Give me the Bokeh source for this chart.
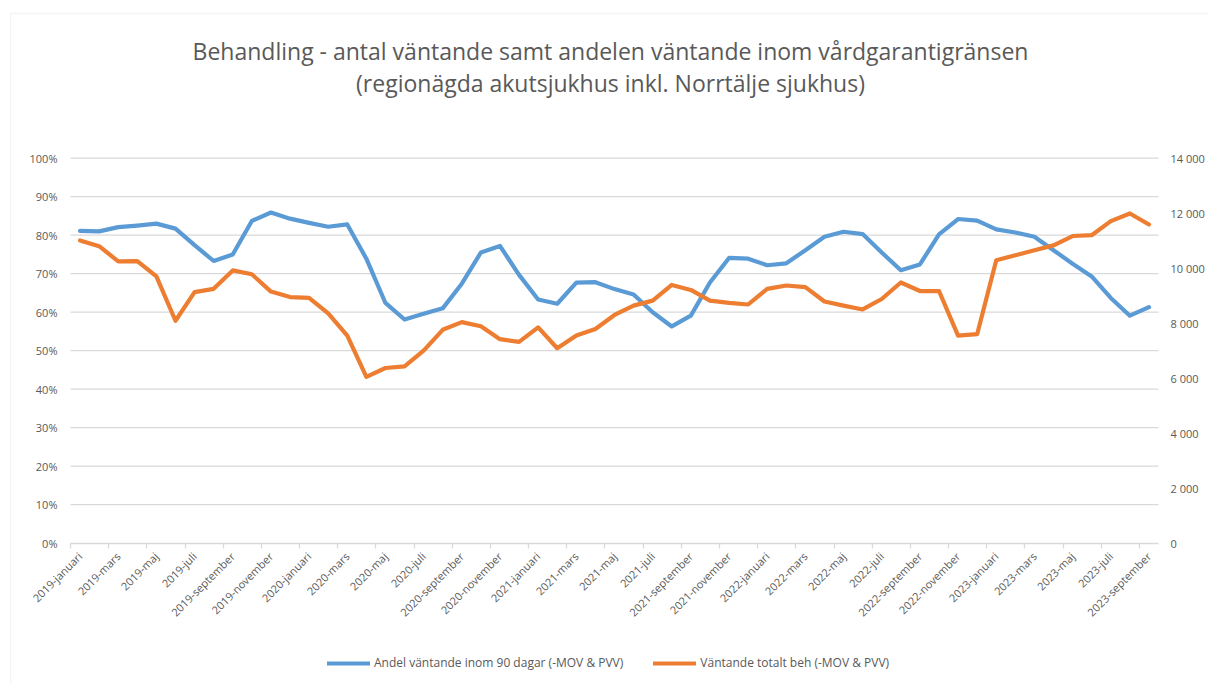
from bokeh.plotting import figure
from bokeh.models import (Range1d, LinearAxis, FixedTicker, NumeralTickFormatter,
                          Legend, LegendItem, Label, BoxAnnotation, ColumnDataSource)
from bokeh.embed import file_html
from bokeh.resources import INLINE
import math

# ---------------- data ----------------
month_names = ["januari", "februari", "mars", "april", "maj", "juni", "juli",
               "augusti", "september", "oktober", "november", "december"]
months = [f"{y}-{m}" for y in (2019, 2020, 2021, 2022) for m in month_names] + \
         [f"2023-{m}" for m in month_names[:9]]

andel_inom_90 = [81.1, 81.0, 82.1, 82.5, 83.0, 81.7, 77.4, 73.3, 75.0, 83.7, 85.9, 84.3,
                 83.2, 82.2, 82.8, 73.9, 62.4, 58.1, 59.6, 61.0, 67.4, 75.5, 77.2, 69.7,
                 63.3, 62.2, 67.7, 67.8, 66.0, 64.6, 60.0, 56.3, 59.1, 67.7, 74.1, 73.9,
                 72.2, 72.7, 76.1, 79.6, 80.9, 80.3, 75.5, 70.9, 72.4, 80.2, 84.2, 83.8,
                 81.5, 80.7, 79.6, 76.1, 72.6, 69.3, 63.7, 59.1, 61.3]

vantande_totalt = [11010, 10800, 10250, 10260, 9700, 8090, 9130, 9250, 9920, 9780, 9150, 8950,
                   8920, 8360, 7550, 6050, 6370, 6430, 7000, 7760, 8040, 7890, 7420, 7320,
                   7850, 7090, 7550, 7790, 8300, 8640, 8820, 9390, 9210, 8820, 8740, 8680,
                   9250, 9370, 9310, 8790, 8640, 8500, 8880, 9480, 9170, 9170, 7550, 7600,
                   10290, 10470, 10650, 10830, 11170, 11200, 11710, 11990, 11590]

left_ticks = [i / 10 for i in range(11)]
right_max = 14000
right_ticks = list(range(0, right_max + 1, 2000))

title_lines = ["Behandling - antal väntande samt andelen väntande inom vårdgarantigränsen",
               "(regionägda akutsjukhus inkl. Norrtälje sjukhus)"]
series_names = ["Andel väntande inom 90 dagar (-MOV & PVV)", "Väntande totalt beh (-MOV & PVV)"]

# ---------------- layout constants (pixels) ----------------
W, H = 1208, 684
PL, PR = 70, 1158          # plot area left / right
PT, PB = 157.7, 542.7      # plot area top / bottom
GRAY = "#595959"
GRID = "#d9d9d9"
FONT = "Open Sans"

n = len(months)
x0, x1 = -0.5, n - 0.5
ppx = (PR - PL) / (x1 - x0)
ppy = (PB - PT) / 1.0
xr = Range1d(x0 - PL / ppx, x1 + (W - PR) / ppx)
yr = Range1d(-(H - PB) / ppy, 1 + PT / ppy)

src = ColumnDataSource(dict(x=list(range(n)), andel=[v / 100 for v in andel_inom_90],
                            vant=vantande_totalt))

p = figure(width=W, height=H, output_backend="svg", toolbar_location=None,
           x_range=xr, y_range=yr, x_axis_location=None, y_axis_location=None,
           min_border_left=0, min_border_right=0, min_border_top=0, min_border_bottom=0,
           tools="")
p.title = None
p.outline_line_color = None
p.background_fill_color = "white"
p.border_fill_color = "white"
p.xgrid.visible = False
p.ygrid.visible = False
p.extra_y_ranges = {"right": Range1d(yr.start * right_max, yr.end * right_max)}

# outer chart border
p.add_layout(BoxAnnotation(left=10, right=W + 20, top=H - 13, bottom=-20,
                           left_units="screen", right_units="screen",
                           top_units="screen", bottom_units="screen",
                           fill_alpha=0, line_color=GRID, line_width=1.3, level="underlay"))

# horizontal gridlines (10%..100%) across the plot area
gl = left_ticks[1:]
p.segment(x0=[x0] * len(gl), x1=[x1] * len(gl), y0=gl, y1=gl,
          line_color=GRID, line_width=1.3, level="underlay")

# x axis (fixed at 0)
xa = LinearAxis(fixed_location=0, bounds=(x0, x1))
xa.ticker = FixedTicker(ticks=list(range(0, n, 2)),
                        minor_ticks=[k - 0.5 for k in range(0, n, 2)])
xa.major_label_overrides = {i: months[i] for i in range(0, n, 2)}
xa.major_label_orientation = math.pi / 4
xa.major_tick_line_color = None
xa.major_tick_in = 0
xa.major_tick_out = 0
xa.minor_tick_line_color = GRID
xa.minor_tick_in = 0
xa.minor_tick_out = 5
xa.minor_tick_line_width = 1.3
xa.axis_line_color = GRID
xa.axis_line_width = 1.3
xa.major_label_text_font = FONT
xa.major_label_text_font_size = "11px"
xa.major_label_text_color = GRAY
xa.major_label_standoff = 6
p.add_layout(xa, "below")

# left axis
ya = LinearAxis(fixed_location=x0, ticker=FixedTicker(ticks=left_ticks),
                formatter=NumeralTickFormatter(format="0%"))
ya.axis_line_color = None
ya.major_tick_line_color = None
ya.major_tick_out = 0
ya.major_tick_in = 0
ya.minor_tick_line_color = None
ya.major_label_text_font = FONT
ya.major_label_text_font_size = "11px"
ya.major_label_text_color = GRAY
ya.major_label_standoff = 13
p.add_layout(ya, "left")

# right axis
ra = LinearAxis(fixed_location=x1, y_range_name="right", ticker=FixedTicker(ticks=right_ticks))
ra.major_label_overrides = {v: f"{v:,}".replace(",", " ") for v in right_ticks}
ra.axis_line_color = None
ra.major_tick_line_color = None
ra.major_tick_out = 0
ra.major_tick_in = 0
ra.minor_tick_line_color = None
ra.major_label_text_font = FONT
ra.major_label_text_font_size = "11px"
ra.major_label_text_color = GRAY
ra.major_label_standoff = 12
p.add_layout(ra, "right")

# titles
for txt, yy in zip(title_lines, (H - 50, H - 82)):
    p.add_layout(Label(x=610, y=yy, x_units="screen", y_units="screen", text=txt,
                       text_align="center", text_baseline="middle", text_font=FONT,
                       text_font_size="23px", text_color=GRAY))

# lines
l1 = p.line("x", "andel", source=src, line_color="#5B9BD5", line_width=4.2,
            line_join="round", line_cap="round")
l2 = p.line("x", "vant", source=src, y_range_name="right", line_color="#ED7D31",
            line_width=4.2, line_join="round", line_cap="round")

legend = Legend(items=[LegendItem(label=series_names[0], renderers=[l1]),
                       LegendItem(label=series_names[1], renderers=[l2])],
                orientation="horizontal", location=(327, 13),
                label_text_font=FONT, label_text_font_size="12px", label_text_color=GRAY,
                glyph_width=43, glyph_height=14, label_standoff=4, spacing=30,
                border_line_color=None, background_fill_alpha=0, margin=0, padding=0)
p.add_layout(legend, "center")

open("out.html", "w").write(file_html(p, INLINE))
